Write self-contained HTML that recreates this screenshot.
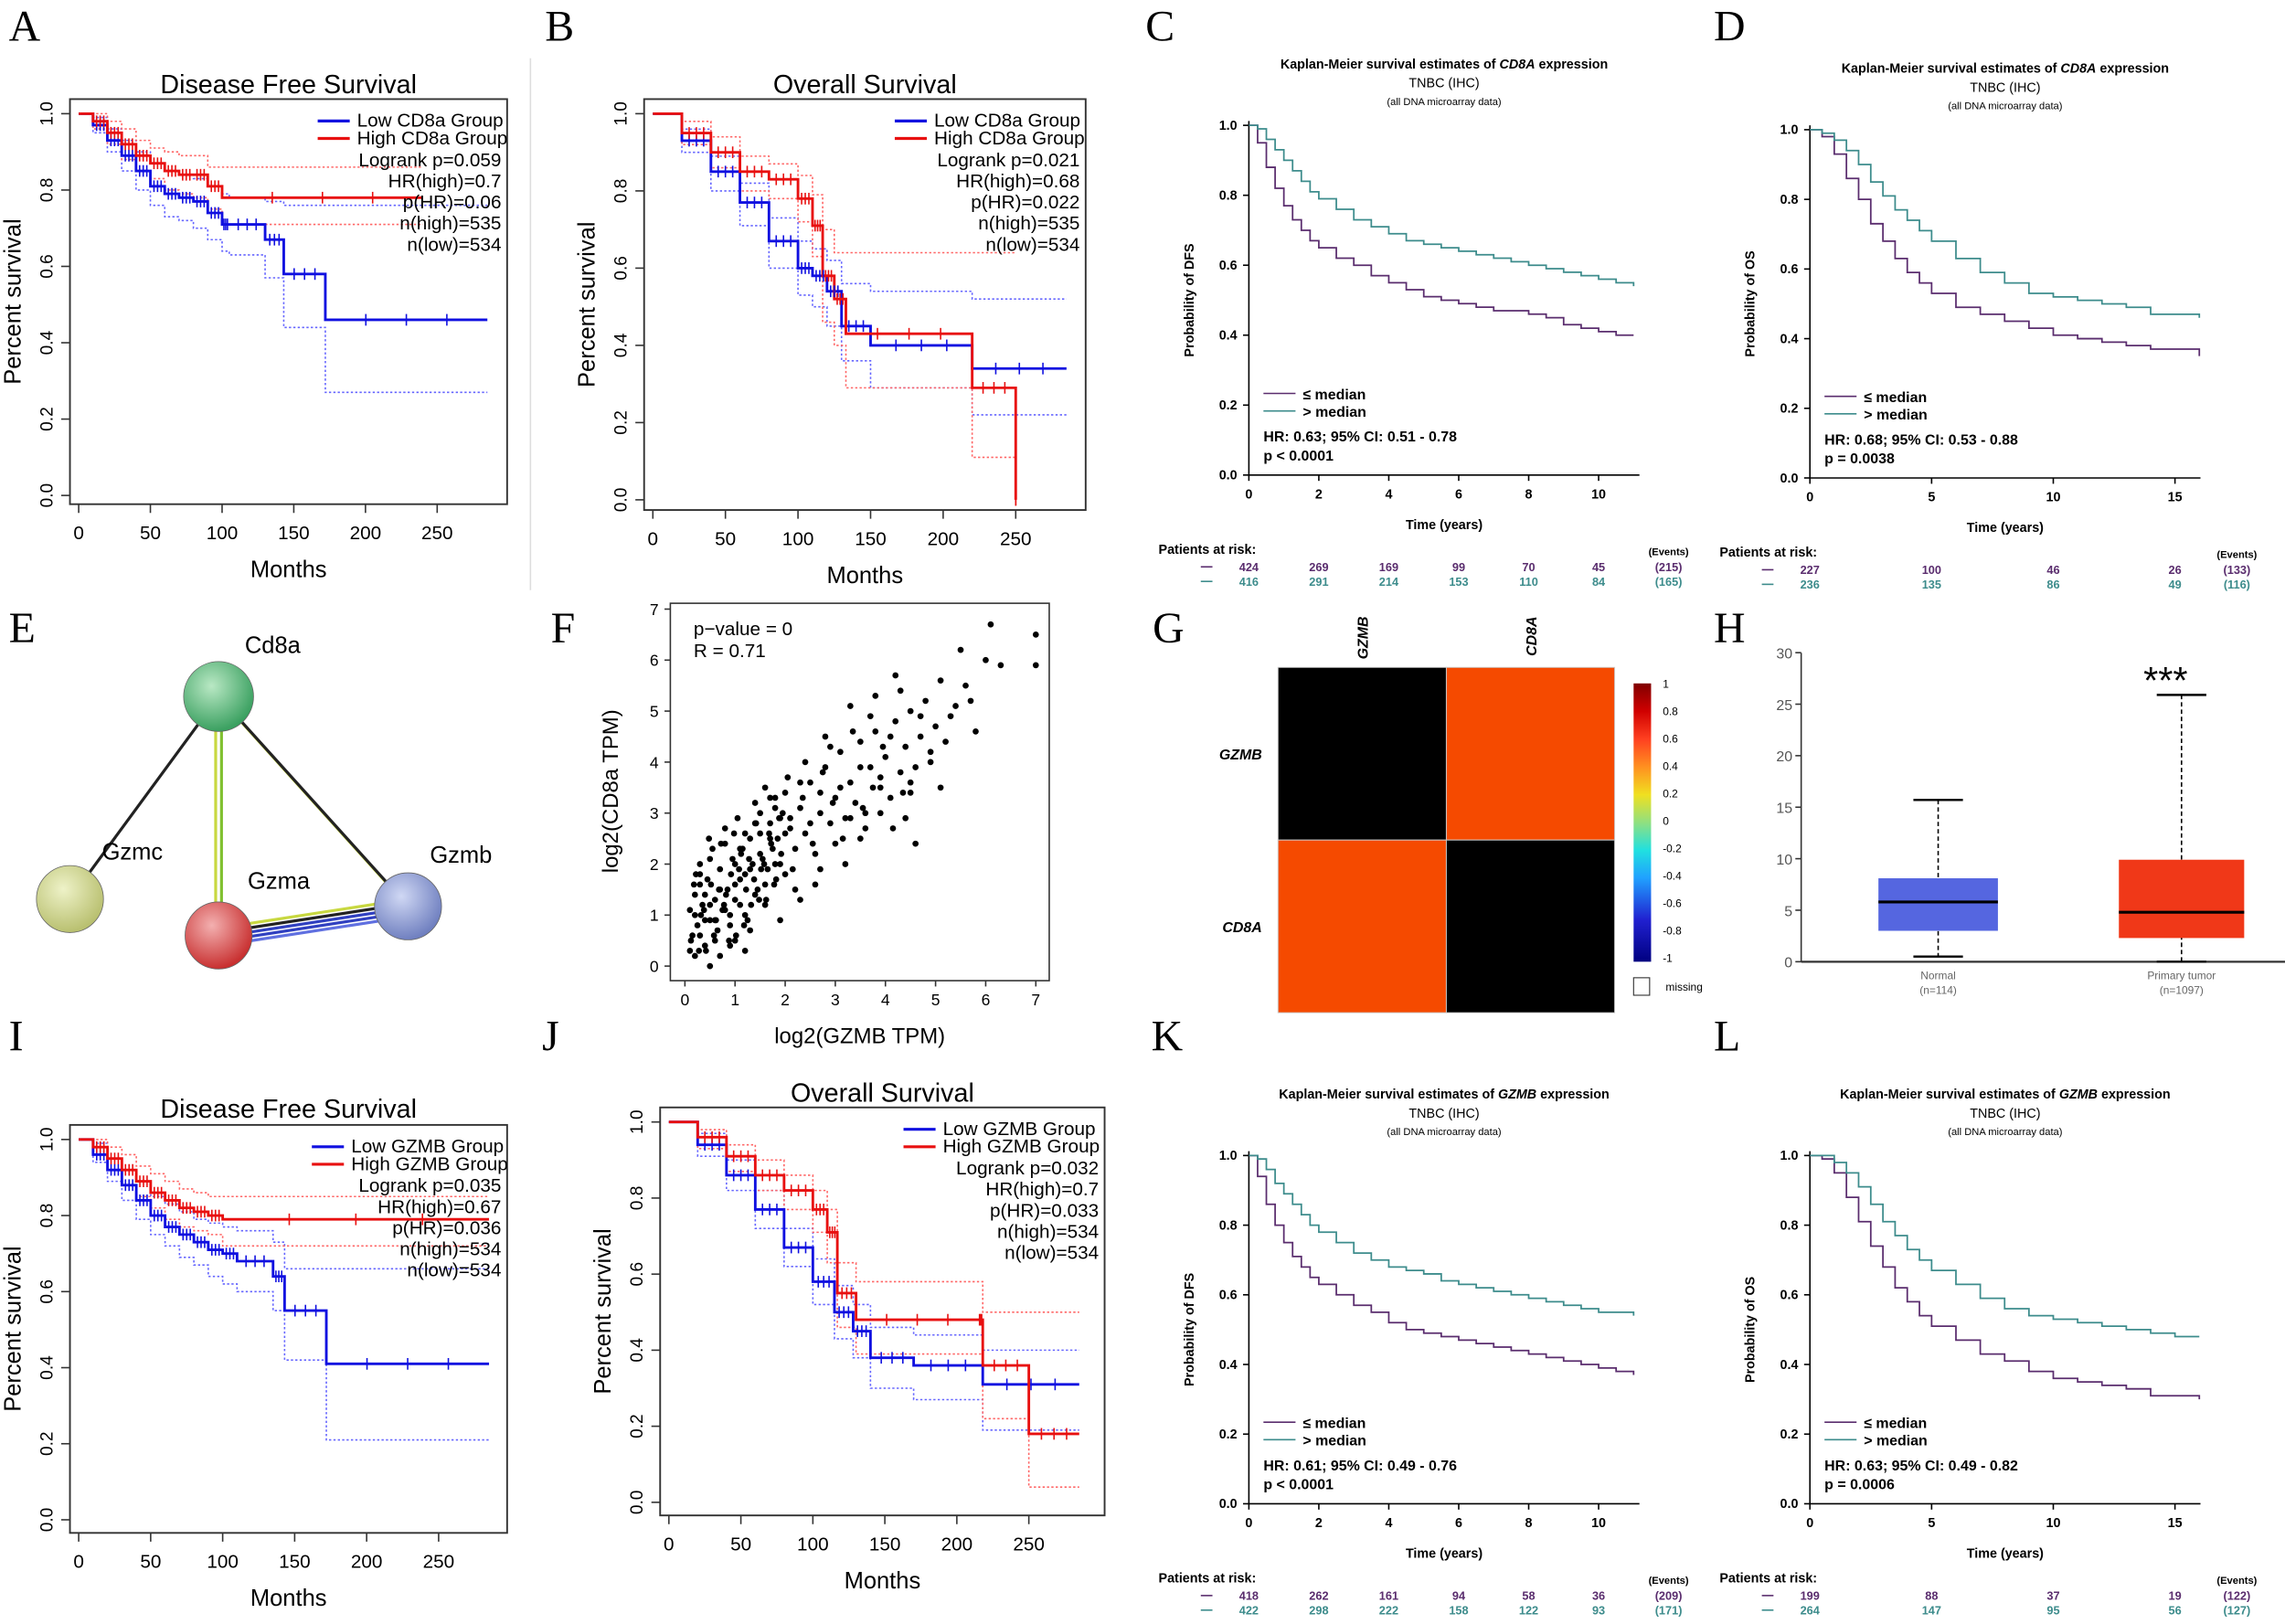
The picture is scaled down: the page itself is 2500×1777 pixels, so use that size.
<!DOCTYPE html>
<html><head><meta charset="utf-8"><style>
html,body{margin:0;padding:0;background:#fff;}
svg{display:block;}
text{font-family:"Liberation Sans",sans-serif;}
.lt{font-family:"Liberation Serif",serif;font-size:30px;}
</style></head><body>
<svg id="fig" xmlns="http://www.w3.org/2000/svg" width="2500" height="1777" viewBox="0 0 1568 1114.5">
<rect width="1568" height="1114.5" fill="#fff"/>
<g id="root"></g>
</svg>
<script>
// ---- Panel A data (months, survival) ----
const aLowT=[0,10,20,30,40,50,60,70,80,90,100,105,130,143,172,285];
const aLowS=[1,.97,.93,.89,.85,.81,.79,.78,.77,.74,.71,.71,.67,.58,.46,.46];
const aHighT=[0,10,20,30,40,50,60,70,80,90,100,240];
const aHighS=[1,.98,.95,.92,.89,.87,.85,.84,.84,.81,.78,.78];
const aLowUpS=[1,.99,.96,.93,.90,.87,.85,.84,.83,.81,.79,.78,.77,.76,.76,.76];
const aLowLoS=[1,.95,.90,.85,.80,.76,.73,.72,.70,.67,.64,.63,.57,.44,.27,.27];
const aHighUpS=[1,1,.98,.96,.93,.91,.90,.89,.89,.86,.86,.86];
const aHighLoS=[1,.96,.92,.88,.85,.83,.80,.79,.78,.75,.71,.71];
// ---- Panel B ----
const bLowT=[0,20,40,60,80,100,110,120,130,150,220,285];
const bLowS=[1,.93,.85,.77,.67,.60,.58,.54,.45,.40,.34,.34];
const bHighT=[0,20,40,60,80,100,110,117,125,133,220,250,250];
const bHighS=[1,.95,.90,.85,.83,.78,.71,.58,.52,.43,.29,0,0];
const bLowUpS=[1,.96,.89,.82,.73,.67,.65,.62,.56,.54,.52,.52];
const bLowLoS=[1,.90,.80,.71,.60,.53,.50,.45,.36,.29,.22,.22];
const bHighUpS=[1,.98,.94,.89,.87,.84,.79,.70,.64,.64,.64,.64,.64];
const bHighLoS=[1,.92,.86,.80,.78,.72,.63,.46,.40,.29,.11,.11,.11];
// ---- Panel I ----
const iLowT=[0,10,20,30,40,50,60,70,80,90,100,110,135,143,172,285];
const iLowS=[1,.96,.92,.88,.84,.80,.77,.75,.73,.71,.70,.68,.64,.55,.41,.41];
const iHighT=[0,10,20,30,40,50,60,70,80,90,100,285];
const iHighS=[1,.98,.95,.92,.89,.86,.84,.82,.81,.80,.79,.79];
const iLowUpS=[1,.99,.95,.92,.89,.85,.83,.81,.79,.78,.77,.76,.73,.66,.66,.66];
const iLowLoS=[1,.94,.89,.84,.79,.75,.72,.69,.67,.64,.62,.60,.55,.42,.21,.21];
const iHighUpS=[1,1,.98,.96,.93,.91,.89,.87,.86,.85,.85,.85];
const iHighLoS=[1,.96,.92,.88,.85,.82,.79,.77,.76,.75,.72,.72];
// ---- Panel J ----
const jLowT=[0,20,40,60,80,100,115,128,140,170,218,285];
const jLowS=[1,.94,.86,.77,.67,.58,.50,.45,.38,.36,.31,.31];
const jHighT=[0,20,40,60,80,100,110,117,130,215,218,250,285];
const jHighS=[1,.96,.91,.86,.82,.77,.71,.55,.48,.48,.36,.18,.18];
const jLowUpS=[1,.97,.90,.82,.72,.64,.57,.52,.46,.44,.40,.40];
const jLowLoS=[1,.91,.82,.72,.62,.52,.43,.38,.30,.27,.19,.19];
const jHighUpS=[1,.98,.94,.90,.86,.82,.77,.63,.58,.58,.50,.50,.50];
const jHighLoS=[1,.93,.87,.82,.77,.71,.63,.46,.39,.39,.22,.04,.04];
// ---- KM-plotter panels (years) ----
const cT=[0,.25,.5,.75,1,1.25,1.5,1.75,2,2.5,3,3.5,4,4.5,5,5.5,6,6.5,7,7.5,8,8.5,9,9.5,10,10.5,11];
const cLow=[1,.95,.88,.82,.77,.73,.70,.67,.65,.62,.60,.57,.55,.53,.51,.50,.49,.48,.47,.47,.46,.45,.43,.42,.41,.40,.40];
const cHigh=[1,.99,.96,.93,.90,.87,.84,.81,.79,.76,.73,.71,.69,.67,.66,.65,.64,.63,.62,.61,.60,.59,.58,.57,.56,.55,.54];
const dT=[0,.5,1,1.5,2,2.5,3,3.5,4,4.5,5,6,7,8,9,10,11,12,13,14,15,16];
const dLow=[1,.98,.93,.86,.80,.73,.68,.63,.59,.56,.53,.49,.47,.45,.43,.41,.40,.39,.38,.37,.37,.35];
const dHigh=[1,.99,.97,.94,.90,.85,.81,.77,.74,.71,.68,.63,.59,.56,.53,.52,.51,.50,.49,.47,.47,.46];
const kT=[0,.25,.5,.75,1,1.25,1.5,1.75,2,2.5,3,3.5,4,4.5,5,5.5,6,6.5,7,7.5,8,8.5,9,9.5,10,10.5,11];
const kLow=[1,.94,.86,.80,.75,.71,.68,.65,.63,.60,.57,.55,.52,.50,.49,.48,.47,.46,.45,.44,.43,.42,.41,.40,.39,.38,.37];
const kHigh=[1,.99,.96,.92,.89,.86,.83,.80,.78,.75,.72,.70,.68,.67,.66,.64,.63,.62,.61,.60,.59,.58,.57,.56,.55,.55,.54];
const lT=[0,.5,1,1.5,2,2.5,3,3.5,4,4.5,5,6,7,8,9,10,11,12,13,14,15,16];
const lLow=[1,.99,.95,.88,.81,.74,.68,.62,.58,.54,.51,.47,.43,.41,.38,.36,.35,.34,.33,.31,.31,.30];
const lHigh=[1,1,.98,.95,.91,.86,.81,.77,.73,.70,.67,.63,.59,.56,.54,.53,.52,.51,.50,.49,.48,.48];
const cRisk1=[424,269,169,99,70,45], cRisk2=[416,291,214,153,110,84];
const dRisk1=[227,100,46,26], dRisk2=[236,135,86,49];
const kRisk1=[418,262,161,94,58,36], kRisk2=[422,298,222,158,122,93];
const lRisk1=[199,88,37,19], lRisk2=[264,147,95,56];
// ---- Scatter F ----
const gzmb=[0.1,0.2,0.3,0.3,0.4,0.5,0.5,0.6,0.7,0.8,0.8,0.9,1.0,1.0,1.1,1.2,1.2,1.3,1.4,1.5,1.5,1.6,1.7,1.8,1.9,2.0,2.0,2.1,2.2,2.3,2.4,2.5,2.6,2.7,2.8,2.9,3.0,3.1,3.2,3.3,3.4,3.5,3.6,3.7,3.8,3.9,4.0,4.1,4.2,4.3,4.4,4.5,4.6,4.7,4.8,4.9,5.0,5.2,5.4,5.6,5.8,6.0,6.3,7.0,7.0,0.2,0.4,0.6,0.9,1.1,1.3,1.6,1.8,2.2,2.4,2.7,3.0,3.3,3.6,3.9,4.2,4.5,0.3,0.7,1.0,1.4,1.9,2.3,2.8,3.2,3.8,4.4,5.1,0.5,1.2,1.7,2.6,3.5,4.6,5.5,
0.1,0.15,0.2,0.25,0.3,0.35,0.4,0.45,0.5,0.55,0.6,0.65,0.7,0.75,0.8,0.85,0.9,0.95,1.0,1.05,1.1,1.15,1.2,1.25,1.3,1.35,1.4,1.45,1.5,1.55,1.6,1.65,1.7,1.75,1.8,1.85,1.9,1.95,2.0,2.05,
0.12,0.22,0.32,0.42,0.52,0.62,0.72,0.82,0.92,1.02,1.12,1.22,1.32,1.42,1.52,1.62,1.72,1.82,1.92,2.1,2.3,2.5,2.7,2.9,3.1,3.3,3.5,3.7,3.9,4.1,4.3,4.5,4.7,4.9,5.1,5.3,5.7,6.1,
0.18,0.28,0.38,0.48,0.58,0.68,0.78,0.88,0.98,1.08,1.18,1.28,1.38,1.48,1.58,1.68,1.78,1.88,2.15,2.35,2.55,2.75,2.95,3.15,3.35,3.55,3.75,3.95,4.15,4.35];
const cd8a=[0.3,1.0,0.6,1.8,0.9,1.2,2.1,0.5,1.5,1.1,2.4,0.8,1.3,2.0,1.7,1.0,2.6,1.9,1.4,2.2,3.0,1.6,2.5,2.0,2.9,1.8,3.4,2.7,2.3,3.1,2.6,3.6,2.2,3.0,3.9,2.8,3.3,4.2,2.9,3.6,3.2,4.4,3.0,3.9,4.6,3.5,4.1,3.3,4.8,3.8,4.3,5.0,3.9,4.5,5.2,4.0,4.7,4.4,5.1,5.5,4.6,6.0,5.9,6.5,5.9,0.2,1.4,0.9,0.4,2.3,0.7,1.2,3.1,1.5,4.0,1.9,2.4,5.1,2.7,3.0,5.7,3.4,1.6,0.2,0.5,2.8,0.9,1.3,4.5,2.0,5.3,2.9,3.5,0.0,0.3,3.3,1.6,2.5,2.4,6.2,
1.1,0.6,1.4,0.8,2.0,1.2,0.4,1.7,0.9,2.3,1.3,0.7,1.9,1.1,2.7,1.5,1.0,2.1,1.6,2.9,1.2,2.3,1.8,0.9,2.5,2.0,3.2,1.5,2.6,2.1,3.5,1.9,2.8,2.3,3.3,2.5,2.0,3.0,2.6,3.7,
0.5,1.8,1.0,0.3,1.6,0.9,2.4,1.4,1.8,0.6,2.2,1.5,1.2,2.8,1.9,1.3,2.4,1.7,2.2,2.9,3.6,2.8,3.4,4.3,3.5,2.9,3.9,4.9,3.7,4.5,5.4,3.6,4.9,4.2,5.6,4.9,5.2,6.7,
1.6,0.3,1.1,2.5,0.6,1.5,1.2,0.5,2.6,1.9,0.8,2.1,1.7,1.3,2.0,2.6,1.6,2.9,1.9,3.3,2.4,3.8,3.2,2.5,4.6,3.1,3.5,4.3,2.7,3.4];
// ---- Heatmap G ----
const hmGenes=["GZMB","CD8A"];
const hmVals=[[1,0.71],[0.71,1]];
// ---- Boxplot H ----
const boxCats=["Normal","Primary tumor"];
const boxN=["(n=114)","(n=1097)"];
const boxMin=[0.5,0], boxQ1=[3.0,2.3], boxMed=[5.8,4.8], boxQ3=[8.1,9.9], boxMax=[15.7,25.9];

const NS="http://www.w3.org/2000/svg";
const root=document.getElementById('root');
function el(tag,attrs,parent,txt){const e=document.createElementNS(NS,tag);for(const k in attrs)e.setAttribute(k,attrs[k]);if(txt!==undefined)e.textContent=txt;(parent||root).appendChild(e);return e;}
function grp(name){const g=el('g',{});


return g;}
function letter(ch,x,y){const t=el('text',{x:x,y:y,class:'lt'},root,ch);

}
function stepPts(T,S,X,Y){let p=[];for(let i=0;i<T.length;i++){if(i>0)p.push(X(T[i])+','+Y(S[i-1]));p.push(X(T[i])+','+Y(S[i]));}return p.join(' ');}

function gepia(o){
  const g=grp(o.name);
  const X=t=>o.x0+t*o.xs, Y=s=>o.y0-(o.y0-o.y1)*s;
  el('text',{x:(o.bx1+o.bx2)/2,y:o.ty,'font-size':18,'text-anchor':'middle'},g,o.title);
  el('rect',{x:o.bx1,y:o.by1,width:o.bx2-o.bx1,height:o.by2-o.by1,fill:'none',stroke:'#333','stroke-width':1.2},g);
  for(let v=0;v<=250;v+=50){el('line',{x1:X(v),x2:X(v),y1:o.by2,y2:o.by2+6,stroke:'#333'},g);
    el('text',{x:X(v),y:o.by2+24,'font-size':13,'text-anchor':'middle'},g,String(v));}
  for(let v=0;v<=5;v++){const s=v/5;el('line',{x1:o.bx1,x2:o.bx1-6,y1:Y(s),y2:Y(s),stroke:'#333'},g);
    el('text',{x:0,y:0,'font-size':12,'text-anchor':'middle',transform:`translate(${o.bx1-12},${Y(s)}) rotate(-90)`},g,s.toFixed(1));}
  el('text',{x:(o.bx1+o.bx2)/2,y:o.by2+50,'font-size':16,'text-anchor':'middle'},g,'Months');
  el('text',{x:0,y:0,'font-size':16,'text-anchor':'middle',transform:`translate(${o.bx1-34},${(o.by1+o.by2)/2}) rotate(-90)`},g,'Percent survival');
  [[o.lowT,o.lowUp,'#66f'],[o.lowT,o.lowLo,'#66f'],[o.highT,o.highUp,'#f66'],[o.highT,o.highLo,'#f66']].forEach(c=>{
    el('polyline',{points:stepPts(c[0],c[1],X,Y),fill:'none',stroke:c[2],'stroke-width':1,'stroke-dasharray':'1.5,1.5'},g);});
  const lo=el('polyline',{points:stepPts(o.lowT,o.lowS,X,Y),fill:'none',stroke:'#1010e0','stroke-width':1.8},g);
  
  
  const hi=el('polyline',{points:stepPts(o.highT,o.highS,X,Y),fill:'none',stroke:'#e81010','stroke-width':1.8},g);
  
  
  [[o.lowT,o.lowS,'#1010e0'],[o.highT,o.highS,'#e81010']].forEach(c=>{for(let i=1;i<c[0].length-1;i++){const n=4;for(let k=1;k<n;k++){const x=X(c[0][i]+(c[0][i+1]-c[0][i])*k/n),y=Y(c[1][i]);el('line',{x1:x,x2:x,y1:y-4,y2:y+4,stroke:c[2]},g);}}});
  const lx=o.bx2-4;
  el('line',{x1:o.lgx,x2:o.lgx+22,y1:o.by1+15,y2:o.by1+15,stroke:'#1010e0','stroke-width':2},g);
  el('line',{x1:o.lgx,x2:o.lgx+22,y1:o.by1+27,y2:o.by1+27,stroke:'#e81010','stroke-width':2},g);
  el('text',{x:o.lgx+27,y:o.by1+19,'font-size':13},g,o.lowName);
  el('text',{x:o.lgx+27,y:o.by1+31,'font-size':13},g,o.highName);
  o.stats.forEach((s,i)=>el('text',{x:lx,y:o.by1+46+i*14.5,'font-size':13,'text-anchor':'end'},g,s));
}
gepia({name:'panel-a-dfs-cd8a',title:'Disease Free Survival',ty:64,bx1:48,bx2:348,by1:68,by2:346,x0:54,xs:0.984,y1:78,y0:340,lgx:218,
 lowT:aLowT,lowS:aLowS,highT:aHighT,highS:aHighS,lowUp:aLowUpS,lowLo:aLowLoS,highUp:aHighUpS,highLo:aHighLoS,
 lowName:'Low CD8a Group',highName:'High CD8a Group',stats:['Logrank p=0.059','HR(high)=0.7','p(HR)=0.06','n(high)=535','n(low)=534']});
gepia({name:'panel-b-os-cd8a',title:'Overall Survival',ty:64,bx1:442,bx2:745,by1:68,by2:350,x0:448,xs:0.996,y1:78,y0:343,lgx:614,
 lowT:bLowT,lowS:bLowS,highT:bHighT,highS:bHighS,lowUp:bLowUpS,lowLo:bLowLoS,highUp:bHighUpS,highLo:bHighLoS,
 lowName:'Low CD8a Group',highName:'High CD8a Group',stats:['Logrank p=0.021','HR(high)=0.68','p(HR)=0.022','n(high)=535','n(low)=534']});
gepia({name:'panel-i-dfs-gzmb',title:'Disease Free Survival',ty:767,bx1:48,bx2:348,by1:772,by2:1052,x0:54,xs:0.988,y1:782,y0:1043,lgx:214,
 lowT:iLowT,lowS:iLowS,highT:iHighT,highS:iHighS,lowUp:iLowUpS,lowLo:iLowLoS,highUp:iHighUpS,highLo:iHighLoS,
 lowName:'Low GZMB Group',highName:'High GZMB Group',stats:['Logrank p=0.035','HR(high)=0.67','p(HR)=0.036','n(high)=534','n(low)=534']});
gepia({name:'panel-j-os-gzmb',title:'Overall Survival',ty:756,bx1:453,bx2:758,by1:760,by2:1040,x0:459,xs:0.988,y1:770,y0:1031,lgx:620,
 lowT:jLowT,lowS:jLowS,highT:jHighT,highS:jHighS,lowUp:jLowUpS,lowLo:jLowLoS,highUp:jHighUpS,highLo:jHighLoS,
 lowName:'Low GZMB Group',highName:'High GZMB Group',stats:['Logrank p=0.032','HR(high)=0.7','p(HR)=0.033','n(high)=534','n(low)=534']});

function kmp(o){
  const g=grp(o.name);
  const X=t=>o.x0+t*o.xs, Y=s=>o.y0-(o.y0-o.y1)*s;
  const cx=(o.x0+o.xe)/2;
  const tt=el('text',{x:cx,y:o.ty,'font-size':9,'font-weight':'bold','text-anchor':'middle'},g,'Kaplan-Meier survival estimates of ');
  const ts=el('tspan',{'font-style':'italic'},tt,o.gene);
  tt.appendChild(document.createTextNode(' expression'));
  el('text',{x:cx,y:o.ty+13,'font-size':9,'text-anchor':'middle'},g,'TNBC (IHC)');
  el('text',{x:cx,y:o.ty+25,'font-size':7,'text-anchor':'middle'},g,'(all DNA microarray data)');
  el('line',{x1:o.x0,x2:o.x0,y1:o.y1-3,y2:o.y0,stroke:'#000'},g);
  el('line',{x1:o.x0,x2:o.xe,y1:o.y0,y2:o.y0,stroke:'#000'},g);
  for(let v=0;v<=5;v++){const s=v/5;el('line',{x1:o.x0-4,x2:o.x0,y1:Y(s),y2:Y(s),stroke:'#000'},g);
    el('text',{x:o.x0-8,y:Y(s)+3,'font-size':9,'font-weight':'bold','text-anchor':'end'},g,s.toFixed(1));}
  o.xticks.forEach(v=>{el('line',{x1:X(v),x2:X(v),y1:o.y0,y2:o.y0+4,stroke:'#000'},g);
    el('text',{x:X(v),y:o.y0+16,'font-size':9,'font-weight':'bold','text-anchor':'middle'},g,String(v));});
  el('text',{x:(o.x0+o.xe)/2,y:o.y0+37,'font-size':9,'font-weight':'bold','text-anchor':'middle'},g,'Time (years)');
  el('text',{x:0,y:0,'font-size':9,'font-weight':'bold','text-anchor':'middle',transform:`translate(${o.x0-38},${(o.y0+o.y1)/2}) rotate(-90)`},g,o.ylab);
  const c1=el('polyline',{points:stepPts(o.T,o.low,X,Y),fill:'none',stroke:'#5a2d6e','stroke-width':1.1},g);
  
  
  const c2=el('polyline',{points:stepPts(o.T,o.high,X,Y),fill:'none',stroke:'#3d8c8c','stroke-width':1.1},g);
  
  
  const ly=o.y0-56;
  el('line',{x1:o.x0+10,x2:o.x0+32,y1:ly,y2:ly,stroke:'#5a2d6e'},g);
  el('line',{x1:o.x0+10,x2:o.x0+32,y1:ly+12,y2:ly+12,stroke:'#3d8c8c'},g);
  el('text',{x:o.x0+37,y:ly+4,'font-size':10,'font-weight':'bold'},g,'≤ median');
  el('text',{x:o.x0+37,y:ly+16,'font-size':10,'font-weight':'bold'},g,'> median');
  el('text',{x:o.x0+10,y:ly+33,'font-size':10,'font-weight':'bold'},g,o.hr);
  el('text',{x:o.x0+10,y:ly+46,'font-size':10,'font-weight':'bold'},g,o.p);
  const ry=o.y0+54;
  el('text',{x:o.x0-62,y:ry,'font-size':9,'font-weight':'bold'},g,'Patients at risk:');
  el('text',{x:o.evx,y:ry+1,'font-size':7,'font-weight':'bold','text-anchor':'middle'},g,'(Events)');
  el('line',{x1:o.x0-33,x2:o.x0-25,y1:ry+9,y2:ry+9,stroke:'#5a2d6e'},g);
  el('line',{x1:o.x0-33,x2:o.x0-25,y1:ry+19,y2:ry+19,stroke:'#3d8c8c'},g);
  o.r1.forEach((v,i)=>el('text',{x:X(o.xticks[i]),y:ry+12,'font-size':8,'font-weight':'bold','text-anchor':'middle',fill:'#5a2d6e'},g,String(v)));
  o.r2.forEach((v,i)=>el('text',{x:X(o.xticks[i]),y:ry+22,'font-size':8,'font-weight':'bold','text-anchor':'middle',fill:'#3d8c8c'},g,String(v)));
  el('text',{x:o.evx,y:ry+12,'font-size':8,'font-weight':'bold','text-anchor':'middle',fill:'#5a2d6e'},g,o.e1);
  el('text',{x:o.evx,y:ry+22,'font-size':8,'font-weight':'bold','text-anchor':'middle',fill:'#3d8c8c'},g,o.e2);
}
kmp({name:'panel-c-km-dfs-cd8a',gene:'CD8A',ty:47,x0:857,xs:24,xe:1125,y1:86,y0:326,xticks:[0,2,4,6,8,10],T:cT,low:cLow,high:cHigh,ylab:'Probability of DFS',
 hr:'HR: 0.63; 95% CI: 0.51 - 0.78',p:'p < 0.0001',r1:cRisk1,r2:cRisk2,e1:'(215)',e2:'(165)',evx:1145});
kmp({name:'panel-d-km-os-cd8a',gene:'CD8A',ty:50,x0:1242,xs:16.7,xe:1510,y1:89,y0:328,xticks:[0,5,10,15],T:dT,low:dLow,high:dHigh,ylab:'Probability of OS',
 hr:'HR: 0.68; 95% CI: 0.53 - 0.88',p:'p = 0.0038',r1:dRisk1,r2:dRisk2,e1:'(133)',e2:'(116)',evx:1535});
kmp({name:'panel-k-km-dfs-gzmb',gene:'GZMB',ty:754,x0:857,xs:24,xe:1125,y1:793,y0:1032,xticks:[0,2,4,6,8,10],T:kT,low:kLow,high:kHigh,ylab:'Probability of DFS',
 hr:'HR: 0.61; 95% CI: 0.49 - 0.76',p:'p < 0.0001',r1:kRisk1,r2:kRisk2,e1:'(209)',e2:'(171)',evx:1145});
kmp({name:'panel-l-km-os-gzmb',gene:'GZMB',ty:754,x0:1242,xs:16.7,xe:1510,y1:793,y0:1032,xticks:[0,5,10,15],T:lT,low:lLow,high:lHigh,ylab:'Probability of OS',
 hr:'HR: 0.63; 95% CI: 0.49 - 0.82',p:'p = 0.0006',r1:lRisk1,r2:lRisk2,e1:'(122)',e2:'(127)',evx:1535});

el('line',{x1:364,x2:364,y1:40,y2:405,stroke:'#ddd'});

// ---- E network ----
(function(){
  const g=grp('panel-e-network');
  const defs=el('defs',{},g);
  const nodes=[['Cd8a',150,478,'#3aa060','#b9e8c4'],['Gzmc',48,617,'#b9c070','#eef2c8'],['Gzma',150,642,'#c83030','#f3b0b0'],['Gzmb',280,622,'#7080c0','#d0d8f4']];
  nodes.forEach((n,i)=>{const rg=el('radialGradient',{id:'ng'+i,cx:'40%',cy:'35%',r:'65%'},defs);el('stop',{offset:'0','stop-color':n[4]},rg);el('stop',{offset:'1','stop-color':n[3]},rg);});
  const P=i=>[nodes[i][1],nodes[i][2]];
  const line=(a,b,c,dx,dy)=>el('line',{x1:P(a)[0]+dx,y1:P(a)[1]+dy,x2:P(b)[0]+dx,y2:P(b)[1]+dy,stroke:c,'stroke-width':2},g);
  line(0,1,'#222',0,0);
  line(0,2,'#c8d840',-2,0);line(0,2,'#80c030',2,0);
  line(0,3,'#c8d840',-2,-2);line(0,3,'#222',2,2);
  line(2,3,'#c8d840',0,-5);line(2,3,'#222',0,-2);line(2,3,'#3040c0',0,1);line(2,3,'#3040c0',0,4);line(2,3,'#6070e0',0,7);
  nodes.forEach((n,i)=>{const c=el('circle',{cx:n[1],cy:n[2],r:i==0?24:23,fill:`url(#ng${i})`,stroke:'#666','stroke-width':.5},g);
    
    });
  el('text',{x:168,y:448,'font-size':16},g,'Cd8a');
  el('text',{x:70,y:590,'font-size':16},g,'Gzmc');
  el('text',{x:170,y:610,'font-size':16},g,'Gzma');
  el('text',{x:295,y:592,'font-size':16},g,'Gzmb');
})();

// ---- F scatter ----
(function(){
  const g=grp('panel-f-scatter');
  const X=v=>470+v*34.4, Y=v=>663-v*35;
  el('rect',{x:460,y:414,width:260,height:259,fill:'none',stroke:'#333','stroke-width':1},g);
  for(let v=0;v<=7;v++){el('line',{x1:X(v),x2:X(v),y1:673,y2:677,stroke:'#333'},g);el('text',{x:X(v),y:690,'font-size':11,'text-anchor':'middle'},g,String(v));
    el('line',{x1:456,x2:460,y1:Y(v),y2:Y(v),stroke:'#333'},g);el('text',{x:452,y:Y(v)+4,'font-size':11,'text-anchor':'end'},g,String(v));}
  el('text',{x:590,y:716,'font-size':15,'text-anchor':'middle'},g,'log2(GZMB TPM)');
  el('text',{x:0,y:0,'font-size':15,'text-anchor':'middle',transform:'translate(424,543) rotate(-90)'},g,'log2(CD8a TPM)');
  el('text',{x:476,y:436,'font-size':13},g,'p−value = 0');
  el('text',{x:476,y:451,'font-size':13},g,'R = 0.71');
  const n=Math.min(gzmb.length,cd8a.length);
  for(let i=0;i<n;i++){const c=el('circle',{cx:X(gzmb[i]),cy:Y(cd8a[i]),r:2.1,fill:'#000'},g);
    
    }
})();

// ---- G heatmap ----
(function(){
  const g=grp('panel-g-heatmap');
  const x0=877,y0=458,cw=115.5,ch=118.5;
  const col=v=>v>=0.99?'#000':'#f54a00';
  hmVals.forEach((row,i)=>row.forEach((v,j)=>{const r=el('rect',{x:x0+j*cw,y:y0+i*ch,width:cw,height:ch,fill:col(v),stroke:'#ccc','stroke-width':.6},g);
    
    }));
  hmGenes.forEach((gname,j)=>{el('text',{x:0,y:0,'font-size':10,'font-weight':'bold','font-style':'italic','text-anchor':'end',transform:`translate(${x0+j*cw+cw/2+4},423) rotate(-90)`},g,gname);
    el('text',{x:866,y:y0+j*ch+ch/2+4,'font-size':10,'font-weight':'bold','font-style':'italic','text-anchor':'end'},g,gname);});
  const defs=el('defs',{},g);const lg=el('linearGradient',{id:'cb',x1:0,y1:0,x2:0,y2:1},defs);
  [['0','#800000'],['0.1','#d00000'],['0.2','#ff4020'],['0.3','#ff9020'],['0.4','#f0e020'],['0.5','#90e080'],['0.6','#20e0e0'],['0.7','#20a0ff'],['0.85','#2020d0'],['1','#000080']].forEach(s=>el('stop',{offset:s[0],'stop-color':s[1]},lg));
  el('rect',{x:1121,y:469,width:12,height:191,fill:'url(#cb)'},g);
  ['1','0.8','0.6','0.4','0.2','0','-0.2','-0.4','-0.6','-0.8','-1'].forEach((t,i)=>el('text',{x:1141,y:472+i*18.8,'font-size':7.5},g,t));
  el('rect',{x:1121,y:671,width:11,height:12,fill:'#fff',stroke:'#333','stroke-width':.7},g);
  el('text',{x:1143,y:680,'font-size':7.5},g,'missing');
})();

// ---- H boxplot ----
(function(){
  const g=grp('panel-h-boxplot');
  const Y=v=>660-v*7.07, cx=[1330,1497], hw=[41,43];
  const cols=['#5566e0','#f03818'];
  el('line',{x1:1236,x2:1236,y1:448,y2:660,stroke:'#333'},g);
  el('line',{x1:1236,x2:1568,y1:660,y2:660,stroke:'#333','stroke-width':1.4},g);
  for(let v=0;v<=30;v+=5){el('line',{x1:1232,x2:1236,y1:Y(v),y2:Y(v),stroke:'#333'},g);el('text',{x:1230,y:Y(v)+4,'font-size':10,'text-anchor':'end',fill:'#555'},g,String(v));}
  boxCats.forEach((c,i)=>{
    el('line',{x1:cx[i],x2:cx[i],y1:Y(boxMax[i]),y2:Y(boxMin[i]),stroke:'#000','stroke-dasharray':'3,2'},g);
    el('line',{x1:cx[i]-17,x2:cx[i]+17,y1:Y(boxMax[i]),y2:Y(boxMax[i]),stroke:'#000','stroke-width':1.5},g);
    el('line',{x1:cx[i]-17,x2:cx[i]+17,y1:Y(boxMin[i]),y2:Y(boxMin[i]),stroke:'#000','stroke-width':1.5},g);
    const b=el('rect',{x:cx[i]-hw[i],y:Y(boxQ3[i]),width:2*hw[i],height:Y(boxQ1[i])-Y(boxQ3[i]),fill:cols[i]},g);
    
    
    el('line',{x1:cx[i]-hw[i],x2:cx[i]+hw[i],y1:Y(boxMed[i]),y2:Y(boxMed[i]),stroke:'#000','stroke-width':2},g);
    el('text',{x:cx[i],y:672,'font-size':7.5,'text-anchor':'middle',fill:'#666'},g,c);
    el('text',{x:cx[i],y:682,'font-size':7.5,'text-anchor':'middle',fill:'#666'},g,boxN[i]);
  });
  el('text',{x:1486,y:476,'font-size':26,'text-anchor':'middle'},g,'***');
})();

letter('A',6,28);letter('B',374,28);letter('C',786,28);letter('D',1176,28);
letter('E',6,441);letter('F',378,441);letter('G',791,441);letter('H',1176,441);
letter('I',6,721);letter('J',372,721);letter('K',790,721);letter('L',1176,721);
</script>
</body></html>
